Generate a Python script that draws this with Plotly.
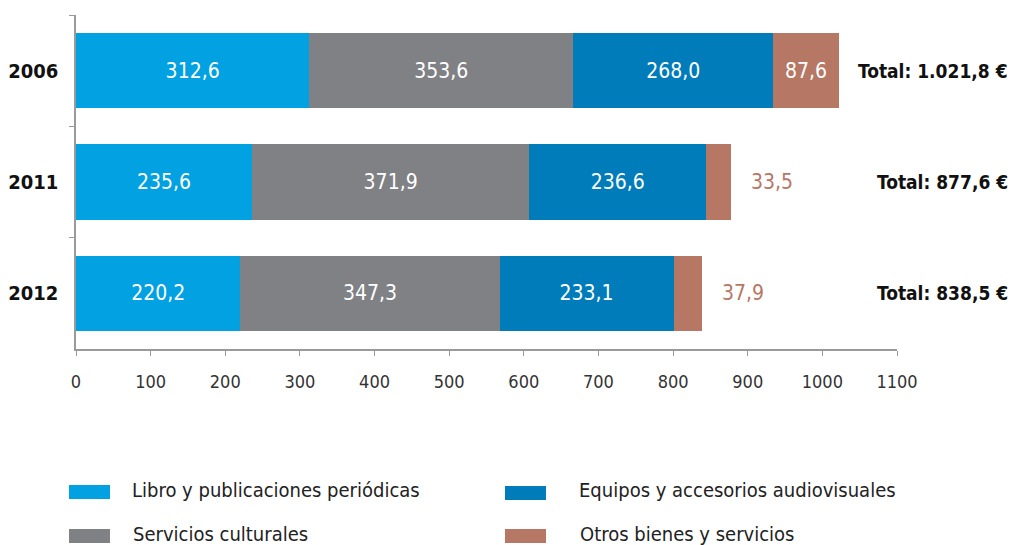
import plotly.graph_objects as go

years = ["2006", "2011", "2012"]
libro = [312.6, 235.6, 220.2]
servicios = [353.6, 371.9, 347.3]
equipos = [268.0, 236.6, 233.1]
otros = [87.6, 33.5, 37.9]
series_names = ["Libro y publicaciones periódicas", "Servicios culturales",
                "Equipos y accesorios audiovisuales", "Otros bienes y servicios"]
x_ticks = list(range(0, 1101, 100))

colors = ["#02A1E2", "#808185", "#007CBA", "#B67765"]
FONT = "Liberation Sans Narrow, DejaVu Sans Condensed, Roboto, sans-serif"


def es(v):
    s = f"{v:,.1f}"
    return s.replace(",", "X").replace(".", ",").replace("X", ".")


totals = [a + b + c + d for a, b, c, d in zip(libro, servicios, equipos, otros)]

fig = go.Figure()
all_series = [libro, servicios, equipos, otros]
for i, (name, vals) in enumerate(zip(series_names, all_series)):
    if i == 3:
        txt = [es(v) if v > 60 else "" for v in vals]
    else:
        txt = [es(v) for v in vals]
    fig.add_trace(go.Bar(
        y=years, x=vals, orientation="h", name=name,
        marker=dict(color=colors[i], line=dict(width=0)),
        text=txt, textposition="inside", insidetextanchor="middle",
        textfont=dict(family=FONT, size=21, color="white"),
        textangle=0, showlegend=False, hoverinfo="x+name",
    ))

annotations = []
# category axis: annotation positions use the category index
for k, (v, t) in enumerate(zip(otros, totals)):
    if v <= 60:
        annotations.append(dict(x=t, y=k, xref="x", yref="y", text=es(v),
                                showarrow=False, xanchor="left", xshift=18,
                                font=dict(family=FONT, size=21, color=colors[3])))
for k, t in enumerate(totals):
    annotations.append(dict(x=(1010 - 76) / 821, y=k, xref="paper", yref="y",
                            text=f"<b>Total: {es(t)} €</b>", showarrow=False,
                            xanchor="right", font=dict(family=FONT, size=19, color="#111")))

# legend drawn in the plot's paper coordinates (screen pixel positions)
shapes = []
PX0, PW, PY0, PH = 76, 821, 349, 334
# (series index, swatch left, swatch top, text left, text centre y)
leg = [(0, 69, 485, 130, 490), (2, 505, 486, 577, 490),
       (1, 69, 529, 131, 534), (3, 505, 529, 578, 534)]
for idx, sx, sy, tx, ty in leg:
    shapes.append(dict(type="rect", xref="paper", yref="paper",
                       x0=(sx - PX0) / PW, x1=(sx + 41 - PX0) / PW,
                       y0=(PY0 - sy) / PH, y1=(PY0 - (sy + 14)) / PH,
                       fillcolor=colors[idx], line=dict(width=0)))
    annotations.append(dict(x=(tx - PX0) / PW, y=(PY0 - ty) / PH,
                            xref="paper", yref="paper", text=series_names[idx],
                            showarrow=False, xanchor="left", yanchor="middle",
                            font=dict(family=FONT, size=20, color="#222")))

fig.update_layout(
    width=1008, height=537,
    margin=dict(l=68, r=119, t=7, b=196, autoexpand=False),
    barmode="stack", bargap=0.325,
    plot_bgcolor="white", paper_bgcolor="white",
    annotations=annotations, shapes=shapes,
    xaxis=dict(range=[0, 1100], tickvals=x_ticks, showgrid=False, zeroline=False,
               showline=True, linecolor="#9a9a9a", linewidth=1.5,
               ticks="outside", ticklen=5, tickcolor="#9a9a9a", automargin=False,
               tickfont=dict(family=FONT, size=18, color="#333"),
               ticklabelstandoff=11),
    yaxis=dict(type="category", categoryorder="array", categoryarray=years,
               range=[len(years) - 0.5, -0.5], autorange=False, automargin=False,
               showgrid=False, zeroline=False,
               showline=True, linecolor="#9a9a9a", linewidth=1.5,
               ticks="outside", ticklen=5, tickcolor="#9a9a9a", tickson="boundaries",
               tickfont=dict(family=FONT, size=20, color="#111", weight="bold"),
               ticklabelstandoff=12),
)

fig.write_html("out.html")
